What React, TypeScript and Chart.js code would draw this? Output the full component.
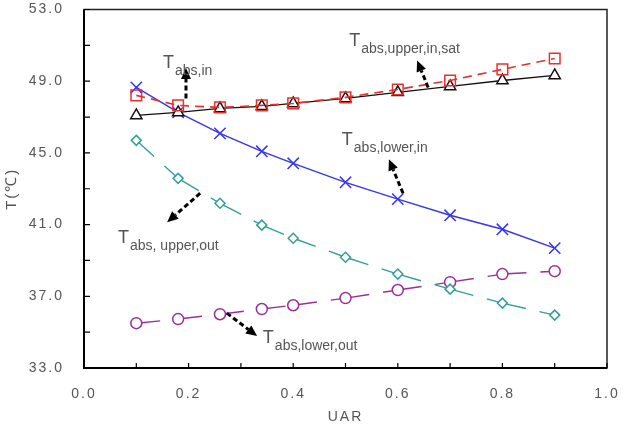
import React, { useEffect, useRef } from 'react';
import { Chart, registerables } from 'chart.js';

Chart.register(...registerables);

const uar = [0.1, 0.18, 0.26, 0.34, 0.4, 0.5, 0.6, 0.7, 0.8, 0.9];
const tUpperInSat = [48.21, 47.65, 47.54, 47.65, 47.76, 48.1, 48.54, 49.04, 49.66, 50.27];
const tAbsIn = [47.09, 47.26, 47.48, 47.6, 47.76, 48.04, 48.38, 48.71, 49.04, 49.32];
const tLowerIn = [48.65, 47.26, 46.09, 45.09, 44.42, 43.36, 42.42, 41.52, 40.74, 39.69];
const tUpperOut = [45.7, 43.58, 42.19, 40.97, 40.24, 39.18, 38.24, 37.4, 36.62, 35.95];
const tLowerOut = [35.5, 35.73, 36.0, 36.29, 36.5, 36.9, 37.35, 37.79, 38.24, 38.4];

const annoMain = ['T', 'T', 'T', 'T', 'T'];
const annoSub = ['abs,in', 'abs,upper,in,sat', 'abs,lower,in', 'abs, upper,out', 'abs,lower,out'];
const annoTextX = [0.151, 0.507, 0.493, 0.065, 0.342];
const annoTextY = [49.71, 50.99, 45.42, 39.96, 34.39];
const arrowFromX = [0.195, 0.658, 0.61, 0.222, 0.273];
const arrowFromY = [48.04, 48.65, 42.75, 42.75, 36.06];
const arrowToX = [0.195, 0.637, 0.583, 0.159, 0.331];
const arrowToY = [49.73, 50.16, 44.64, 41.13, 34.78];

const FONT = '"Liberation Sans", Arial, sans-serif';

function pts(ys: number[]) {
  return uar.map((x, i) => ({ x, y: ys[i] }));
}

const restartDash = { borderDashOffset: (c: any) => c.p0DataIndex * 0.0001 };

const framePlugin = {
  id: 'framePlugin',
  beforeDraw(chart: any) {
    chart.ctx.letterSpacing = '2px';
  },
  afterDatasetsDraw(chart: any) {
    const ctx = chart.ctx;
    const { left, right, top, bottom } = chart.chartArea;
    const xs = chart.scales.x;
    const ys = chart.scales.y;
    ctx.save();
    ctx.strokeStyle = '#222';
    ctx.lineWidth = 1.5;
    ctx.strokeRect(left, top, right - left, bottom - top);
    ctx.strokeStyle = '#000';
    ctx.lineWidth = 2;
    ctx.beginPath();
    ctx.moveTo(left, top);
    ctx.lineTo(left, bottom);
    ctx.lineTo(right, bottom);
    ctx.stroke();
    ctx.lineWidth = 1.2;
    ctx.beginPath();
    for (const t of ys.ticks) {
      const py = ys.getPixelForValue(t.value);
      ctx.moveTo(left, py);
      ctx.lineTo(left + 6, py);
    }
    for (const t of xs.ticks) {
      const px = xs.getPixelForValue(t.value);
      ctx.moveTo(px, bottom);
      ctx.lineTo(px, bottom - 5);
    }
    ctx.stroke();
    ctx.restore();
  },
  afterDraw(chart: any) {
    const ctx = chart.ctx;
    const xs = chart.scales.x;
    const ys = chart.scales.y;
    ctx.save();
    ctx.letterSpacing = '0px';
    for (let i = 0; i < annoSub.length; i++) {
      const x1 = xs.getPixelForValue(arrowFromX[i]);
      const y1 = ys.getPixelForValue(arrowFromY[i]);
      const x2 = xs.getPixelForValue(arrowToX[i]);
      const y2 = ys.getPixelForValue(arrowToY[i]);
      const ang = Math.atan2(y2 - y1, x2 - x1);
      const hl = 11;
      const hw = 5;
      const bx = x2 - hl * Math.cos(ang);
      const by = y2 - hl * Math.sin(ang);
      ctx.strokeStyle = '#000';
      ctx.fillStyle = '#000';
      ctx.lineWidth = 3;
      ctx.setLineDash([5, 3]);
      ctx.beginPath();
      ctx.moveTo(x1, y1);
      ctx.lineTo(bx, by);
      ctx.stroke();
      ctx.setLineDash([]);
      ctx.beginPath();
      ctx.moveTo(x2, y2);
      ctx.lineTo(bx - hw * Math.sin(ang), by + hw * Math.cos(ang));
      ctx.lineTo(bx + hw * Math.sin(ang), by - hw * Math.cos(ang));
      ctx.closePath();
      ctx.fill();
      const tx = xs.getPixelForValue(annoTextX[i]);
      const ty = ys.getPixelForValue(annoTextY[i]);
      ctx.fillStyle = '#555';
      ctx.textAlign = 'left';
      ctx.textBaseline = 'alphabetic';
      ctx.font = '18px ' + FONT;
      ctx.fillText(annoMain[i], tx, ty);
      const w = ctx.measureText(annoMain[i]).width;
      ctx.font = '14px ' + FONT;
      ctx.fillText(annoSub[i], tx + w + 1, ty + 7);
    }
    ctx.restore();
  },
};

export default function App() {
  const ref = useRef<HTMLCanvasElement | null>(null);
  useEffect(() => {
    document.body.style.margin = '0';
    if (!ref.current) return;
    const chart = new Chart(ref.current, {
      type: 'scatter',
      data: {
        datasets: [
          {
            label: 'Tabs,upper,in,sat',
            data: pts(tUpperInSat),
            showLine: true,
            borderColor: '#e8302c',
            borderWidth: 1.6,
            borderDash: [9, 6],
            pointStyle: 'rect',
            pointRadius: 7.5,
            pointBorderWidth: 1.5,
            pointBorderColor: '#e8302c',
            pointBackgroundColor: 'rgba(255,255,255,0)',
          },
          {
            label: 'Tabs,in',
            data: pts(tAbsIn),
            showLine: true,
            borderColor: '#111',
            borderWidth: 1.3,
            pointStyle: 'triangle',
            pointRadius: 6.5,
            pointBorderWidth: 1.5,
            pointBorderColor: '#111',
            pointBackgroundColor: '#fff',
          },
          {
            label: 'Tabs,lower,in',
            data: pts(tLowerIn),
            showLine: true,
            borderColor: '#3636ee',
            borderWidth: 1.4,
            pointStyle: 'crossRot',
            pointRadius: 8,
            pointBorderWidth: 1.5,
            pointBorderColor: '#3636ee',
          },
          {
            label: 'Tabs,upper,out',
            data: pts(tUpperOut),
            showLine: true,
            borderColor: '#33a096',
            borderWidth: 1.4,
            borderDash: [24, 14],
            segment: restartDash,
            pointStyle: 'rectRot',
            pointRadius: 5,
            pointBorderWidth: 1.5,
            pointBorderColor: '#33a096',
            pointBackgroundColor: '#fff',
          },
          {
            label: 'Tabs,lower,out',
            data: pts(tLowerOut),
            showLine: true,
            borderColor: '#9a2f9a',
            borderWidth: 1.4,
            borderDash: [24, 14],
            segment: restartDash,
            pointStyle: 'circle',
            pointRadius: 5.5,
            pointBorderWidth: 1.5,
            pointBorderColor: '#9a2f9a',
            pointBackgroundColor: '#fff',
          },
        ],
      },
      options: {
        animation: false,
        responsive: false,
        events: [],
        layout: { padding: { left: 0, top: 9, right: 16, bottom: 0 } },
        plugins: { legend: { display: false }, tooltip: { enabled: false } },
        scales: {
          x: {
            type: 'linear',
            min: 0,
            max: 1,
            grid: { display: false, drawTicks: false },
            border: { display: false },
            ticks: {
              stepSize: 0.1,
              autoSkip: false,
              maxRotation: 0,
              padding: 18,
              color: '#555',
              font: { family: FONT, size: 14 },
              callback: (v: any) => (Math.round(Number(v) * 10) % 2 === 0 ? Number(v).toFixed(1) : ''),
            },
            title: {
              display: true,
              text: 'UAR',
              color: '#555',
              font: { family: FONT, size: 14, lineHeight: 1 },
              padding: { top: 0, bottom: 0 },
            },
            afterFit: (s: any) => {
              s.height = 56;
              s.paddingLeft = 0;
              s.paddingRight = 0;
            },
          },
          y: {
            type: 'linear',
            min: 33,
            max: 53,
            grid: { display: false, drawTicks: false },
            border: { display: false },
            ticks: {
              stepSize: 2,
              autoSkip: false,
              padding: 20,
              color: '#555',
              font: { family: FONT, size: 14 },
              callback: (v: any) => ((Math.round(Number(v)) - 33) % 4 === 0 ? Number(v).toFixed(1) : ''),
            },
            title: {
              display: true,
              text: 'T(℃)',
              color: '#555',
              font: { family: FONT, size: 15 },
              padding: { top: 3, bottom: 0 },
            },
            afterFit: (s: any) => {
              s.width = 84;
              s.paddingTop = 0;
              s.paddingBottom = 0;
            },
          },
        },
      },
      plugins: [framePlugin],
    });
    return () => chart.destroy();
  }, []);
  return (
    <div style={{ width: 623, height: 424 }}>
      <canvas ref={ref} width={623} height={424} style={{ display: 'block' }} />
    </div>
  );
}
